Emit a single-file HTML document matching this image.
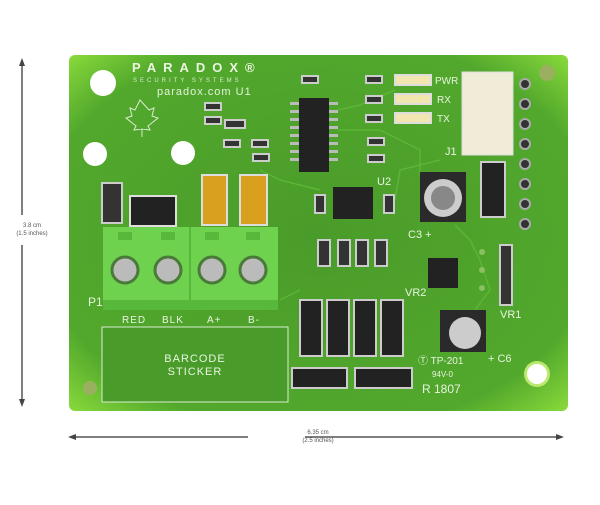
<!DOCTYPE html>
<html><head><style>
body{margin:0;background:#fff;width:600px;height:500px;overflow:hidden;font-family:"Liberation Sans",sans-serif}
</style></head><body>
<svg width="600" height="500" viewBox="0 0 600 500" xmlns="http://www.w3.org/2000/svg">
<defs>
<radialGradient id="g" cx="50%" cy="50%" r="70%"><stop offset="0" stop-color="#4a9c2a"/><stop offset="0.8" stop-color="#52a82c"/><stop offset="1" stop-color="#86d83a"/></radialGradient>
</defs>
<line x1="22" y1="62" x2="22" y2="215" stroke="#555" stroke-width="1.5"/>
<line x1="22" y1="245" x2="22" y2="403" stroke="#555" stroke-width="1.5"/>
<polygon points="22,58 19,66 25,66" fill="#444"/><polygon points="22,407 19,399 25,399" fill="#444"/>
<text x="32" y="227" font-size="6" fill="#555" text-anchor="middle">3.8 cm</text>
<text x="32" y="235" font-size="6" fill="#555" text-anchor="middle">(1.5 inches)</text>
<line x1="72" y1="437" x2="248" y2="437" stroke="#555" stroke-width="1.5"/>
<line x1="305" y1="437" x2="560" y2="437" stroke="#555" stroke-width="1.5"/>
<polygon points="68,437 76,434 76,440" fill="#444"/><polygon points="564,437 556,434 556,440" fill="#444"/>
<text x="318" y="434" font-size="6" fill="#555" text-anchor="middle">6.35 cm</text>
<text x="318" y="442" font-size="6" fill="#555" text-anchor="middle">(2.5 inches)</text>
<rect x="69" y="55" width="499" height="356" rx="6" fill="url(#g)"/>
<!-- traces -->
<g fill="none" stroke="#5cb535" stroke-width="1.5">
<path d="M338 110 L360 105 L395 90"/><path d="M338 130 L380 130 L420 150 L420 175"/><path d="M260 170 L280 180 L320 190"/><path d="M455 225 L470 240 L480 260 L490 290 L475 310"/><path d="M395 200 L400 170 L440 160"/><path d="M300 290 L280 300"/>
</g>
<circle cx="103" cy="83" r="13" fill="#fff"/><circle cx="95" cy="154" r="12" fill="#fff"/><circle cx="183" cy="153" r="12" fill="#fff"/>
<circle cx="537" cy="374" r="13" fill="#bde870"/><circle cx="537" cy="374" r="10" fill="#fff"/>
<circle cx="547" cy="73" r="8" fill="#9ab060"/><circle cx="90" cy="388" r="7" fill="#9ab060"/>
<text x="132" y="72" font-size="13" fill="#eaf5e0" letter-spacing="7" font-weight="bold">PARADOX®</text>
<text x="133" y="82" font-size="6" fill="#d8ecd0" letter-spacing="3">SECURITY SYSTEMS</text>
<text x="157" y="95" font-size="11" fill="#e4f2dc" letter-spacing="1">paradox.com U1</text>
<path d="M140 100 l-5 10 -5 -2 2 8 -6 2 10 8 -2 4 8 -1 0 8 0 -8 8 1 -2 -4 10 -8 -6 -2 2 -8 -5 2z" fill="none" stroke="#d8ecd0" stroke-width="1"/>
<g fill="#bbb"><rect x="290" y="102" width="48" height="3"/><rect x="290" y="110" width="48" height="3"/><rect x="290" y="118" width="48" height="3"/><rect x="290" y="126" width="48" height="3"/><rect x="290" y="134" width="48" height="3"/><rect x="290" y="142" width="48" height="3"/><rect x="290" y="150" width="48" height="3"/><rect x="290" y="158" width="48" height="3"/></g>
<rect x="299" y="98" width="30" height="74" fill="#222"/>
<g fill="#333" stroke="#ccc" stroke-width="2">
<rect x="302" y="76" width="16" height="7"/><rect x="366" y="76" width="16" height="7"/><rect x="366" y="96" width="16" height="7"/><rect x="366" y="115" width="16" height="7"/>
<rect x="205" y="103" width="16" height="7"/><rect x="205" y="117" width="16" height="7"/><rect x="225" y="120" width="20" height="8"/>
<rect x="224" y="140" width="16" height="7"/><rect x="252" y="140" width="16" height="7"/><rect x="253" y="154" width="16" height="7"/>
<rect x="368" y="138" width="16" height="7"/><rect x="368" y="155" width="16" height="7"/>
<rect x="318" y="240" width="12" height="26"/><rect x="338" y="240" width="12" height="26"/><rect x="356" y="240" width="12" height="26"/><rect x="375" y="240" width="12" height="26"/>
<rect x="315" y="195" width="10" height="18"/><rect x="384" y="195" width="10" height="18"/>
<rect x="500" y="245" width="12" height="60"/>
<rect x="102" y="183" width="20" height="40"/>
</g>
<g fill="#f2e6b0" stroke="#ddd" stroke-width="2"><rect x="395" y="75" width="36" height="10"/><rect x="395" y="94" width="36" height="10"/><rect x="395" y="113" width="36" height="10"/></g>
<text x="435" y="84" font-size="10" fill="#e8f5e0">PWR</text><text x="437" y="103" font-size="10" fill="#e8f5e0">RX</text><text x="437" y="122" font-size="10" fill="#e8f5e0">TX</text>
<rect x="462" y="72" width="51" height="83" fill="#f1ecd8" stroke="#ddd"/>
<text x="445" y="155" font-size="11" fill="#e8f5e0">J1</text>
<g fill="#333" stroke="#aaa" stroke-width="2"><circle cx="525" cy="84" r="5"/><circle cx="525" cy="104" r="5"/><circle cx="525" cy="124" r="5"/><circle cx="525" cy="144" r="5"/><circle cx="525" cy="164" r="5"/><circle cx="525" cy="184" r="5"/><circle cx="525" cy="204" r="5"/><circle cx="525" cy="224" r="5"/></g>
<rect x="481" y="162" width="24" height="55" fill="#222" stroke="#ccc" stroke-width="2"/>
<rect x="420" y="172" width="46" height="50" fill="#2a2a2a"/><circle cx="443" cy="198" r="19" fill="#ccc"/><circle cx="443" cy="198" r="12" fill="#888"/>
<text x="408" y="238" font-size="11" fill="#e8f5e0">C3 +</text>
<rect x="333" y="187" width="40" height="32" fill="#222"/>
<text x="377" y="185" font-size="11" fill="#e8f5e0">U2</text>
<rect x="428" y="258" width="30" height="30" fill="#222"/>
<g fill="#8ac060"><circle cx="482" cy="252" r="3"/><circle cx="482" cy="270" r="3"/><circle cx="482" cy="288" r="3"/></g>
<text x="405" y="296" font-size="11" fill="#e8f5e0">VR2</text>
<text x="500" y="318" font-size="11" fill="#e8f5e0">VR1</text>
<rect x="440" y="310" width="46" height="42" fill="#2a2a2a"/><circle cx="465" cy="333" r="16" fill="#ccc"/>
<text x="488" y="362" font-size="11" fill="#e8f5e0">+ C6</text>
<rect x="202" y="175" width="25" height="50" fill="#d9a020" stroke="#ddd" stroke-width="2"/><rect x="240" y="175" width="27" height="50" fill="#d9a020" stroke="#ddd" stroke-width="2"/>
<rect x="130" y="196" width="46" height="30" fill="#222" stroke="#ddd" stroke-width="2"/>
<rect x="103" y="227" width="175" height="83" fill="#6ed24e"/>
<rect x="103" y="300" width="175" height="10" fill="#58b83c"/>
<rect x="189" y="227" width="2" height="83" fill="#58b83c"/>
<g fill="#58b83c"><rect x="118" y="232" width="14" height="8"/><rect x="161" y="232" width="14" height="8"/><rect x="205" y="232" width="14" height="8"/><rect x="246" y="232" width="14" height="8"/></g>
<g fill="#bbb" stroke="#4a7a3a" stroke-width="3"><circle cx="125" cy="270" r="13"/><circle cx="168" cy="270" r="13"/><circle cx="212" cy="270" r="13"/><circle cx="253" cy="270" r="13"/></g>
<text x="88" y="306" font-size="12" fill="#e8f5e0">P1</text>
<g font-size="10" fill="#e8f5e0" letter-spacing="1"><text x="122" y="323">RED</text><text x="162" y="323">BLK</text><text x="207" y="323">A+</text><text x="248" y="323">B-</text></g>
<rect x="102" y="327" width="186" height="75" fill="#4a9c2a" stroke="#d8ecd0" stroke-width="1"/>
<text x="195" y="362" font-size="11" fill="#e8f5e0" text-anchor="middle" letter-spacing="1">BARCODE</text>
<text x="195" y="375" font-size="11" fill="#e8f5e0" text-anchor="middle" letter-spacing="1">STICKER</text>
<g fill="#222" stroke="#ccc" stroke-width="2"><rect x="300" y="300" width="22" height="56"/><rect x="327" y="300" width="22" height="56"/><rect x="354" y="300" width="22" height="56"/><rect x="381" y="300" width="22" height="56"/>
<rect x="292" y="368" width="55" height="20"/><rect x="355" y="368" width="57" height="20"/></g>
<text x="418" y="364" font-size="10" fill="#e8f5e0">Ⓣ TP-201</text>
<text x="432" y="377" font-size="8" fill="#e8f5e0">94V-0</text>
<text x="422" y="393" font-size="12" fill="#e8f5e0">R 1807</text>
</svg>
</body></html>
